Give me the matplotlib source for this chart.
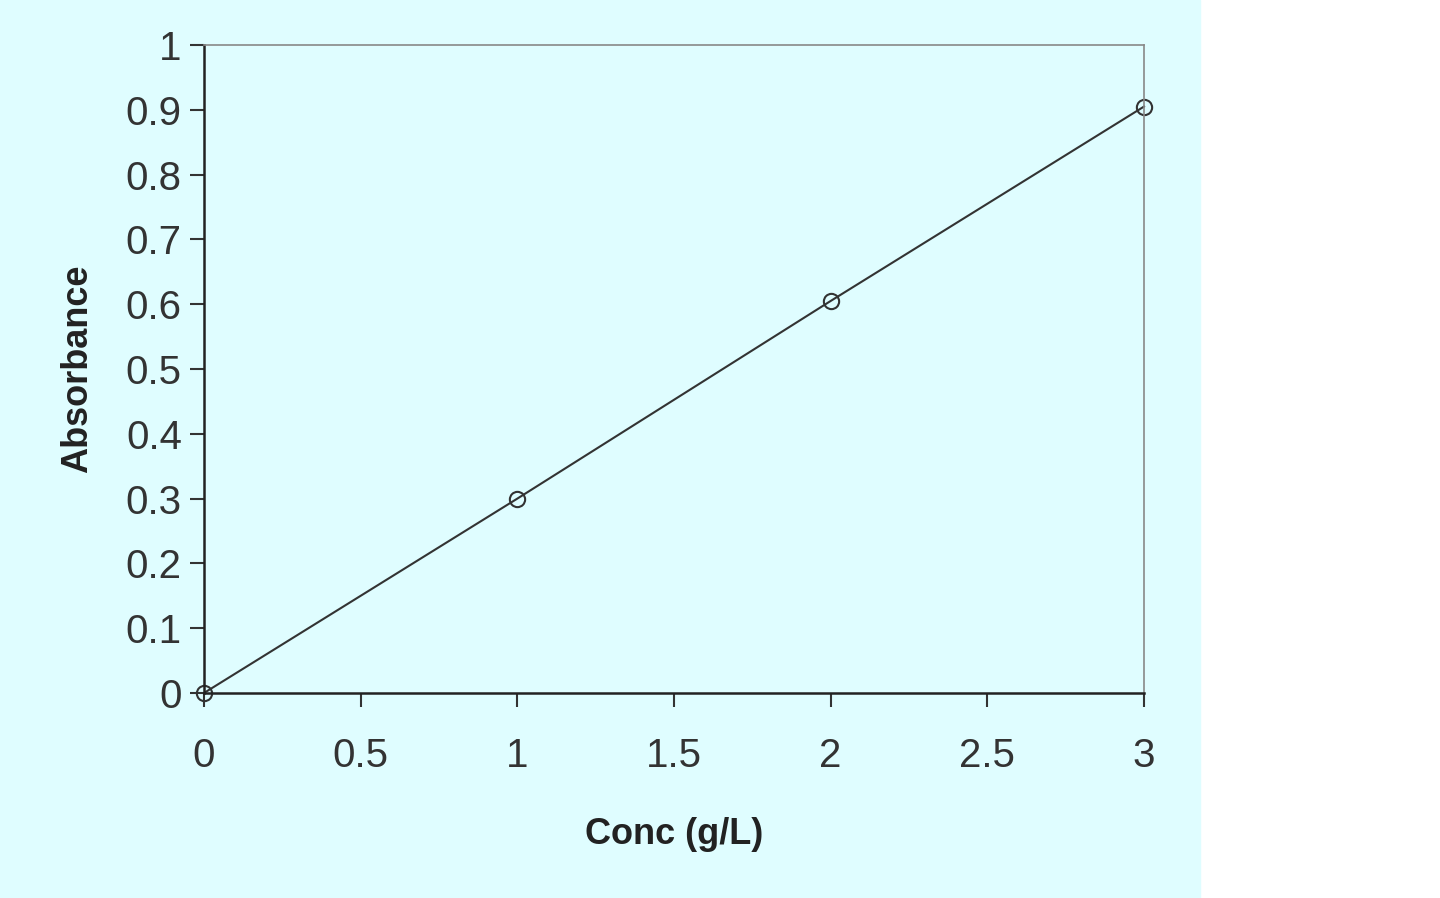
import matplotlib
matplotlib.use("Agg")
import matplotlib.pyplot as plt
from matplotlib.patches import Rectangle

conc = [0, 1, 2, 3]
absorbance = [0.0, 0.30, 0.605, 0.905]
xticks = [0, 0.5, 1, 1.5, 2, 2.5, 3]
yticks = [0, 0.1, 0.2, 0.3, 0.4, 0.5, 0.6, 0.7, 0.8, 0.9, 1]

plt.rcParams['font.family'] = ['Liberation Sans', 'DejaVu Sans']
bg = '#DFFDFF'
fig = plt.figure(figsize=(14.4, 8.98), dpi=100)
fig.patches.append(Rectangle((0, 0), 1200/1440, 1, transform=fig.transFigure, color=bg, zorder=-10))
ax = fig.add_axes([204/1440, 1-693/898, 940/1440, 648/898])
ax.set_facecolor(bg)
ax.plot(conc, absorbance, color='#333333', lw=1.5, marker='o', ms=11, mfc='none', mec='#333333', mew=1.5, clip_on=False)
ax.set_xlim(0, 3)
ax.set_ylim(0, 1)
ax.set_xticks(xticks)
ax.set_xticklabels([f"{t:g}" for t in xticks])
ax.set_yticks(yticks)
ax.set_yticklabels([f"{t:g}" for t in yticks])
ax.tick_params(axis='both', labelsize=29, colors='#333333', length=10, width=1.5, direction='out')
ax.tick_params(axis='x', pad=22)
ax.tick_params(axis='y', pad=6)
for s in ['left', 'bottom']:
    ax.spines[s].set_color('#222222'); ax.spines[s].set_linewidth(1.8)
for s in ['top', 'right']:
    ax.spines[s].set_color('#888888'); ax.spines[s].set_linewidth(1.2)
ax.set_xlabel('Conc (g/L)', fontsize=26, fontweight='bold', labelpad=30, color='#222222')
ax.set_ylabel('Absorbance', fontsize=26, fontweight='bold', labelpad=22, color='#222222')
fig.savefig('out.png', dpi=100)
